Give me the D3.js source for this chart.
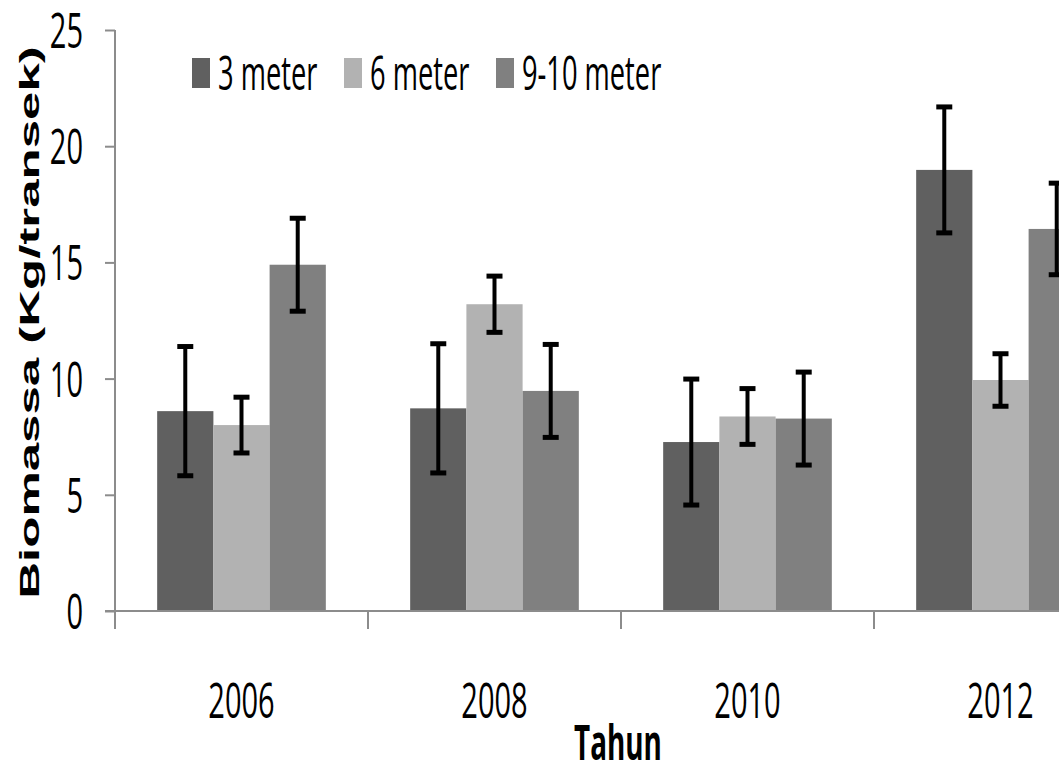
<!DOCTYPE html>
<html>
<head>
<meta charset="utf-8">
<script src="https://cdn.jsdelivr.net/npm/d3@7"></script>
<style>
  body { margin: 0; background: #fff; }
  text { font-family: "Open Sans", sans-serif; fill: #000; }
</style>
</head>
<body>
<svg id="chart"></svg>
<script>
// ---- data ----
const years = ['2006', '2008', '2010', '2012'];
const series = ['3 meter', '6 meter', '9-10 meter'];
const val3 = [8.6, 8.72, 7.27, 18.98];
const err3 = [2.78, 2.78, 2.71, 2.71];
const val6 = [8.0, 13.2, 8.37, 9.94];
const err6 = [1.2, 1.21, 1.2, 1.13];
const val9 = [14.9, 9.47, 8.28, 16.44];
const err9 = [2.0, 2.0, 2.0, 1.97];
const yTicks = [0, 5, 10, 15, 20, 25];

const colors = ['#606060', '#b2b2b2', '#808080'];

const W = 1059, H = 769;
const margin = {top: 30, left: 115, bottom: 158};
const plotW = 1012;  // chart runs past the right edge, as in the picture
const squish = 0.58; // text is horizontally condensed

const svg = d3.select('#chart').attr('width', W).attr('height', H);

// table built from the arrays
const rows = years.map((y, i) => ({
  year: y,
  bars: [
    {s: series[0], v: val3[i], e: err3[i]},
    {s: series[1], v: val6[i], e: err6[i]},
    {s: series[2], v: val9[i], e: err9[i]}
  ]
}));

//----------------------------SCALES----------------------------//
const x0 = d3.scaleBand().domain(years)
  .range([margin.left, margin.left + plotW]).padding(0);
const x1 = d3.scaleBand().domain(series)
  .range([0, x0.bandwidth()]).paddingInner(0).paddingOuter(0.75);
const y = d3.scaleLinear().domain([0, 25]).range([H - margin.bottom, margin.top]);
const color = d3.scaleOrdinal().domain(series).range(colors);

// condensed text helper
function squeezed(g, tx, ty, str) {
  return g.append('text')
    .attr('transform', `translate(${tx},${ty}) scale(${squish},1)`)
    .text(str);
}

//----------------------------BARS-----------------------------//
const groups = svg.append('g').selectAll('g')
  .data(rows)
  .enter()
  .append('g')
  .attr('transform', d => `translate(${x0(d.year)},0)`);

groups.selectAll('rect')
  .data(d => d.bars)
  .enter()
  .append('rect')
  .attr('x', d => x1(d.s))
  .attr('width', x1.bandwidth())
  .attr('y', d => y(d.v))
  .attr('height', d => y(0) - y(d.v))
  .attr('fill', d => color(d.s));

//--------------------------ERROR BARS--------------------------//
const capHalf = 8;
const errs = groups.selectAll('g.err')
  .data(d => d.bars)
  .enter()
  .append('g')
  .attr('class', 'err')
  .attr('transform', d => `translate(${x1(d.s) + x1.bandwidth() / 2},0)`);

errs.append('line')
  .attr('x1', 0).attr('x2', 0)
  .attr('y1', d => y(d.v + d.e))
  .attr('y2', d => y(d.v - d.e))
  .attr('stroke', '#000').attr('stroke-width', 4);

errs.selectAll('line.cap')
  .data(d => [d.v + d.e, d.v - d.e])
  .enter()
  .append('line')
  .attr('class', 'cap')
  .attr('x1', -capHalf).attr('x2', capHalf)
  .attr('y1', d => y(d)).attr('y2', d => y(d))
  .attr('stroke', '#000').attr('stroke-width', 5);

//-----------------------------AXES-----------------------------//
const axisColor = '#8c8c8c';
const yAxis = svg.append('g')
  .attr('transform', `translate(${margin.left},0)`)
  .call(d3.axisLeft(y).tickValues(yTicks).tickSize(10).tickFormat(''));
yAxis.select('.domain').remove();
yAxis.selectAll('.tick line').attr('stroke', axisColor).attr('stroke-width', 2);
svg.append('line')
  .attr('x1', margin.left).attr('x2', margin.left)
  .attr('y1', y(25)).attr('y2', y(0) + 18)
  .attr('stroke', axisColor).attr('stroke-width', 2);

yTicks.forEach(t => {
  squeezed(svg, 83, y(t), t)
    .attr('text-anchor', 'end')
    .attr('dy', '0.36em')
    .style('font-size', '50px');
});

// x axis
svg.append('line')
  .attr('x1', margin.left - 10).attr('x2', W)
  .attr('y1', y(0)).attr('y2', y(0))
  .attr('stroke', axisColor).attr('stroke-width', 2);

years.forEach(yr => {
  svg.append('line')
    .attr('x1', x0(yr) + x0.bandwidth()).attr('x2', x0(yr) + x0.bandwidth())
    .attr('y1', y(0)).attr('y2', y(0) + 18)
    .attr('stroke', axisColor).attr('stroke-width', 2);
  squeezed(svg, x0(yr) + x0.bandwidth() / 2, 718, yr)
    .attr('text-anchor', 'middle')
    .style('font-size', '50px');
});

//----------------------------TITLES----------------------------//
squeezed(svg, margin.left + plotW / 2 - 3, 760, 'Tahun')
  .attr('text-anchor', 'middle')
  .style('font-size', '48px')
  .style('font-weight', 'bold');

svg.append('text')
  .attr('transform', `translate(39,${(y(0) + y(25)) / 2 + 2}) rotate(-90) scale(1,0.55)`)
  .attr('text-anchor', 'middle')
  .style('font-family', '"Liberation Sans", Arial, sans-serif')
  .style('font-weight', 'bold')
  .style('font-size', '51px')
  .text('Biomassa (Kg/transek)');

//----------------------------LEGEND----------------------------//
const legend = svg.append('g');
series.forEach((s, i) => {
  const lx = 192 + i * 152;
  legend.append('rect')
    .attr('x', lx).attr('y', 58)
    .attr('width', 18).attr('height', 30)
    .attr('fill', color(s));
  squeezed(legend, lx + 26, 90, s)
    .style('font-size', '47px');
});
</script>
</body>
</html>
